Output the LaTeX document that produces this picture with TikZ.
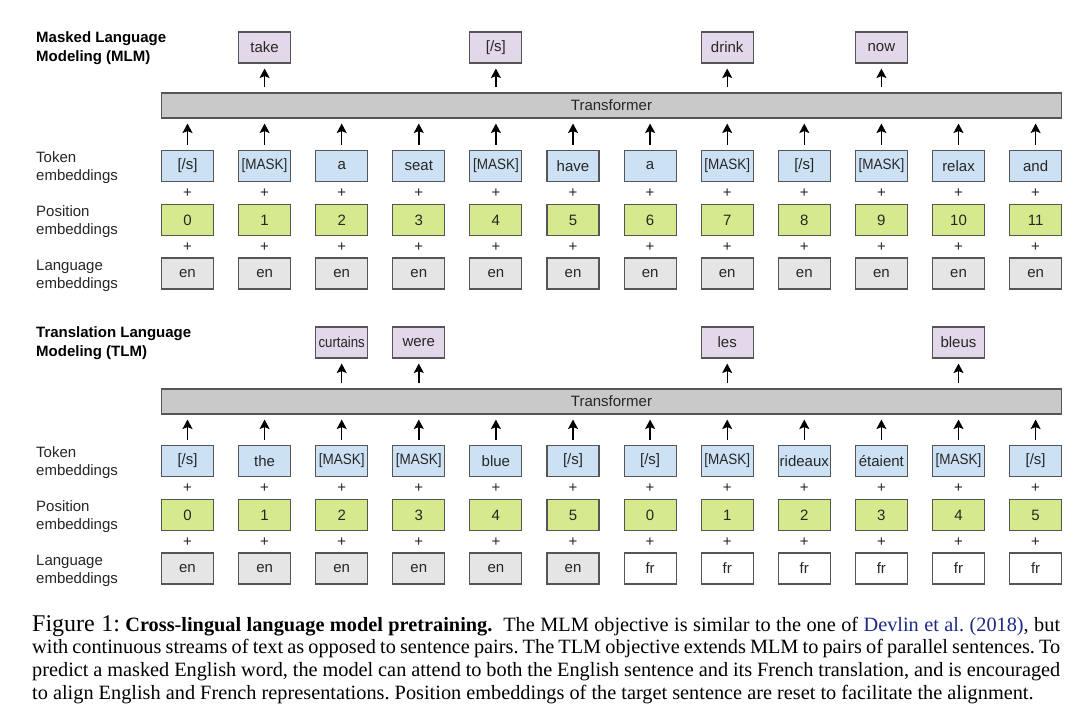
\documentclass[tikz,border=0pt]{standalone}
\usepackage{fontspec}
\setmainfont{Liberation Sans}
\newfontfamily\capfont{Liberation Serif}
\usetikzlibrary{arrows.meta}
\definecolor{tokfill}{HTML}{CDE1F5}
\definecolor{posfill}{HTML}{D5EA8C}
\definecolor{langfill}{HTML}{E5E5E5}
\definecolor{outfill}{HTML}{E3D7EA}
\definecolor{transfill}{HTML}{C9C9C9}
\definecolor{boxline}{HTML}{555555}
\definecolor{citeblue}{HTML}{1C2A85}
\newcommand\msk{\scalebox{0.9}[1]{[MASK]}}
\newcommand\sq[1]{\scalebox{0.88}[1]{#1}}
\begin{document}
\begin{tikzpicture}[x=1pt,y=-1pt,
  boxbase/.style={draw=boxline, line width=1.1pt, minimum width=52pt, minimum height=31pt, inner sep=0pt, text=black!85, font=\fontsize{15}{18}\selectfont},
  tokbox/.style={boxbase, fill=tokfill},
  posbox/.style={boxbase, fill=posfill},
  langbox/.style={boxbase, fill=langfill},
  frbox/.style={boxbase, fill=white},
  outbox/.style={boxbase, fill=outfill},
  transbox/.style={draw=boxline, line width=1.1pt, fill=transfill, minimum width=900pt, minimum height=25pt, inner sep=0pt, text=black!85, font=\fontsize{15}{18}\selectfont},
  arr/.style={-{Stealth[length=9.5pt,width=10pt,inset=2pt]}, line width=1.4pt, shorten <=5pt, shorten >=5pt},
  plussign/.style={font=\fontsize{15}{15}\selectfont, inner sep=0pt, text=black!85},
  rowlab/.style={anchor=west, align=left, inner sep=0pt, font=\fontsize{15}{18}\selectfont, text=black!85},
  title/.style={anchor=west, align=left, inner sep=0pt, font=\bfseries\fontsize{15}{18.5}\selectfont}
]
\useasboundingbox[fill=white] (0,0) rectangle (1080,719);

% ---------------- MLM ----------------
\node[title] (mtitle) at (36,48) {Masked Language\\Modeling (MLM)};
\node[transbox] (mtr) at (611.5,105.5) {Transformer};
\node[rowlab] (mlt) at (36,167.5) {Token\\embeddings};
\node[rowlab] (mlp) at (36,221.5) {Position\\embeddings};
\node[rowlab] (mll) at (36,275.5) {Language\\embeddings};

\foreach \t [count=\i from 0] in {{[/s]},\msk,a,seat,\msk,have,a,\msk,{[/s]},\msk,relax,and} {
  \node[tokbox] (mt\i) at ({187.5+77.1*\i},166) {\t};
  \node[plussign] (mpa\i) at ({187.5+77.1*\i},193.5) {+};
  \node[posbox] (mp\i) at ({187.5+77.1*\i},220) {\i};
  \node[plussign] (mpb\i) at ({187.5+77.1*\i},247) {+};
  \node[langbox] (ml\i) at ({187.5+77.1*\i},273.5) {en};
  \draw[arr] (mt\i.north) -- (mt\i.north |- mtr.south);
}
\foreach \c/\t in {1/take,4/{[/s]},7/drink,9/now} {
  \node[outbox] (mo\c) at ({187.5+77.1*\c},47.5) {\t};
  \draw[arr] (mo\c.south |- mtr.north) -- (mo\c.south);
}

% ---------------- TLM ----------------
\node[title] (ttitle) at (36,343) {Translation Language\\Modeling (TLM)};
\node[transbox] (ttr) at (611.5,401.5) {Transformer};
\node[rowlab] (tlt) at (36,462.5) {Token\\embeddings};
\node[rowlab] (tlp) at (36,516.5) {Position\\embeddings};
\node[rowlab] (tll) at (36,570.5) {Language\\embeddings};

\foreach \t/\p [count=\i from 0] in {{[/s]}/0,the/1,\msk/2,\msk/3,blue/4,{[/s]}/5,{[/s]}/0,\msk/1,rideaux/2,étaient/3,\msk/4,{[/s]}/5} {
  \node[tokbox] (tt\i) at ({187.5+77.1*\i},461) {\t};
  \node[plussign] (tpa\i) at ({187.5+77.1*\i},488) {+};
  \node[posbox] (tp\i) at ({187.5+77.1*\i},515) {\p};
  \node[plussign] (tpb\i) at ({187.5+77.1*\i},542) {+};
  \draw[arr] (tt\i.north) -- (tt\i.north |- ttr.south);
}
\foreach \i in {0,...,5} {
  \node[langbox] (tl\i) at ({187.5+77.1*\i},568.5) {en};
}
\foreach \i in {6,...,11} {
  \node[frbox] (tl\i) at ({187.5+77.1*\i},568.5) {fr};
}
\foreach \c/\t in {2/\sq{curtains},3/were,7/les,10/bleus} {
  \node[outbox] (to\c) at ({187.5+77.1*\c},342.5) {\t};
  \draw[arr] (to\c.south |- ttr.north) -- (to\c.south);
}

% ---------------- Caption ----------------
\node[anchor=north west, inner sep=0pt, text width=1028pt, align=justify,
      font=\capfont\frenchspacing\fontsize{20.3}{22.8}\selectfont] (cap) at (32,615)
{{\fontsize{24}{22.8}\selectfont Figure 1:} \textbf{Cross-lingual language model pretraining.}\ \ The MLM objective is similar to the one of \textcolor{citeblue}{Devlin et al. (2018)}, but\linebreak
with continuous streams of text as opposed to sentence pairs. The TLM objective extends MLM to pairs of parallel sentences. To\linebreak
predict a masked English word, the model can attend to both the English sentence and its French translation, and is encouraged\linebreak
to align English and French representations. Position embeddings of the target sentence are reset to facilitate the alignment.};
\end{tikzpicture}
\end{document}
